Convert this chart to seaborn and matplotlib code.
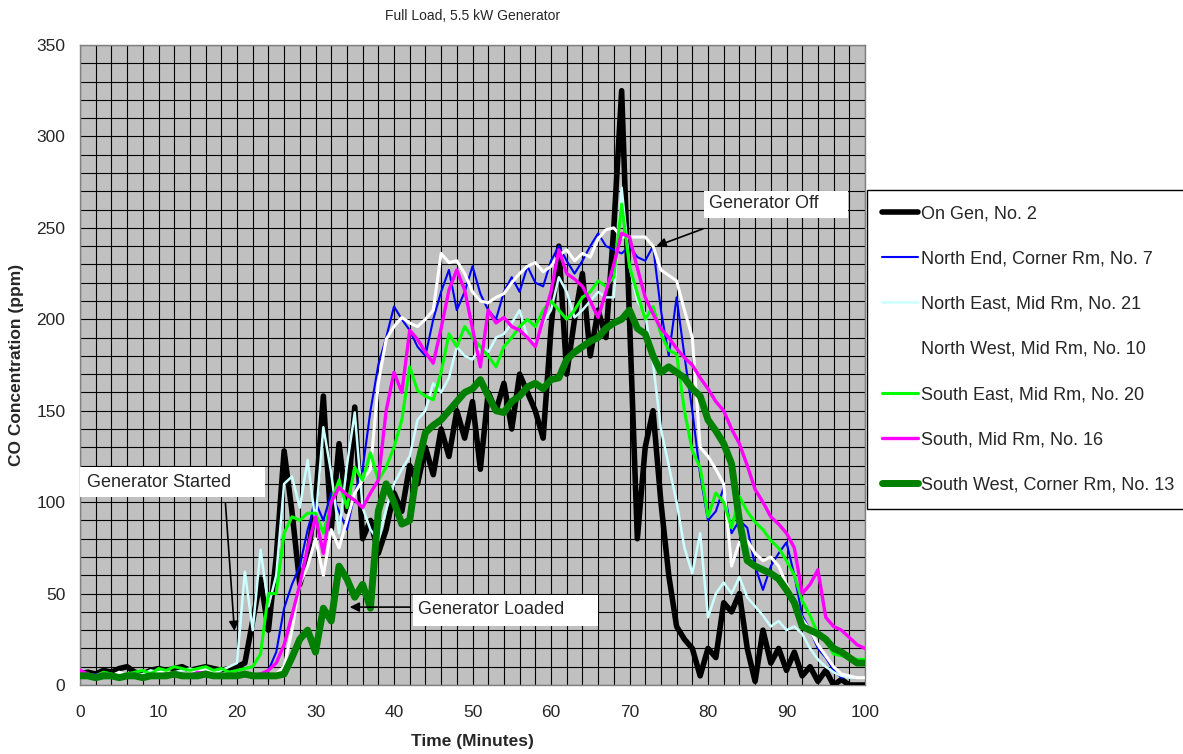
import numpy as np
import pandas as pd
import matplotlib
matplotlib.use("Agg")
import matplotlib.pyplot as plt
from matplotlib.patches import Rectangle
from matplotlib.lines import Line2D
import seaborn as sns

# ---------------- data (1-minute readings, ppm) ----------------
minutes = list(range(0, 101))

on_gen_2 = [6, 7, 6, 8, 7, 9, 10, 7, 6, 8, 9, 8, 9, 10, 8, 9, 10, 9, 8, 9, 10,
            12, 35, 58, 30, 70, 128, 95, 55, 70, 100, 158, 85, 132, 95, 152, 80, 90, 72, 85,
            105, 95, 120, 110, 130, 115, 140, 125, 150, 135, 155, 118, 160, 150, 165, 140, 170, 160, 150, 135,
            195, 240, 170, 200, 225, 180, 205, 190, 250, 325, 200, 80, 130, 150, 100, 60, 32, 25, 20, 5,
            20, 15, 45, 40, 50, 20, 2, 30, 12, 20, 8, 18, 5, 10, 2, 8, 0, 3, 0, 0, 0]

north_end_7 = [5, 4, 6, 5, 5, 6, 4, 5, 6, 5, 5, 6, 5, 6, 7, 8, 6, 5, 6, 5, 6, 5,
               5, 6, 8, 18, 42, 55, 65, 85, 100, 90, 105, 95, 85, 105, 118, 150, 175, 190,
               207, 200, 194, 185, 180, 200, 215, 227, 205, 215, 229, 214, 205, 200, 215, 223, 215, 229, 220, 218,
               232, 240, 232, 225, 232, 240, 247, 240, 238, 236, 240, 234, 232, 240, 205, 180, 212, 180, 150, 115,
               90, 95, 108, 83, 90, 86, 65, 52, 65, 72, 78, 60, 38, 30, 20, 15, 8, 4, 5, 4, 4]

north_east_21 = [4, 5, 4, 5, 6, 5, 4, 5, 6, 8, 7, 6, 7, 8, 9, 8, 9, 7, 8, 10, 12,
                 62, 30, 74, 43, 60, 110, 114, 97, 123, 89, 141, 116, 83, 120, 149, 97, 85, 79, 96,
                 110, 118, 125, 145, 150, 165, 160, 168, 185, 180, 178, 185, 182, 190, 192, 198, 205, 190, 187, 198,
                 205, 223, 215, 201, 205, 210, 215, 212, 212, 272, 229, 210, 203, 176, 140, 120, 100, 75, 61, 83,
                 37, 50, 56, 50, 59, 48, 43, 38, 32, 35, 30, 32, 28, 20, 14, 10, 7, 5, 4, 4, 4]

north_west_10 = [6, 5, 5, 6, 5, 7, 5, 6, 5, 6, 7, 8, 6, 6, 7, 8, 9, 7, 6, 7, 6, 6,
                 5, 5, 5, 6, 10, 30, 55, 65, 80, 60, 85, 75, 90, 105, 112, 118, 165, 189,
                 196, 201, 198, 196, 200, 205, 236, 231, 232, 225, 215, 210, 209, 212, 214, 220, 225, 229, 231, 226,
                 229, 235, 238, 232, 236, 234, 244, 249, 250, 245, 245, 245, 245, 240, 227, 224, 221, 205, 190, 130,
                 125, 118, 110, 65, 78, 79, 72, 68, 70, 65, 55, 46, 36, 30, 22, 16, 10, 6, 5, 4, 4]

south_east_20 = [5, 6, 5, 7, 6, 5, 6, 7, 8, 6, 9, 8, 10, 9, 8, 9, 10, 8, 9, 7, 8, 9,
                 10, 17, 50, 50, 83, 92, 90, 94, 94, 83, 100, 112, 97, 119, 112, 127, 112, 119,
                 130, 145, 174, 161, 158, 156, 171, 192, 185, 196, 190, 185, 180, 174, 185, 190, 196, 200, 196, 205,
                 210, 205, 200, 205, 212, 215, 221, 218, 223, 263, 229, 214, 200, 207, 192, 183, 181, 150, 128, 119,
                 92, 105, 100, 86, 103, 95, 89, 85, 79, 75, 68, 60, 46, 38, 28, 24, 17, 16, 15, 14, 14]

south_mid_16 = [8, 6, 5, 6, 5, 4, 5, 6, 4, 5, 5, 6, 5, 6, 5, 7, 6, 5, 6, 5, 6, 5,
                5, 6, 8, 12, 22, 38, 55, 75, 92, 72, 100, 108, 104, 101, 97, 105, 112, 150,
                171, 160, 194, 189, 182, 176, 195, 216, 227, 216, 195, 174, 205, 198, 201, 196, 194, 190, 185, 200,
                215, 238, 225, 222, 218, 210, 201, 215, 230, 247, 245, 228, 212, 203, 195, 190, 184, 179, 175, 168,
                162, 155, 150, 140, 132, 120, 107, 100, 92, 88, 83, 75, 50, 55, 63, 37, 32, 30, 26, 22, 20]

south_west_13 = [5, 5, 4, 5, 5, 4, 5, 5, 4, 5, 5, 5, 6, 5, 5, 5, 6, 5, 5, 5, 5, 6, 5, 5, 5, 5, 6,
                 15, 25, 30, 18, 42, 35, 65, 58, 48, 55, 42, 95, 110,
                 100, 88, 90, 120, 138, 142, 145, 150, 155, 160, 162, 167, 158, 150, 149, 155, 158, 163, 165, 162,
                 167, 168, 178, 182, 185, 188, 190, 195, 198, 200, 205, 195, 192, 180, 171, 174, 171, 168, 162, 158,
                 145, 139, 132, 121, 90, 68, 65, 63, 61, 58, 52, 45, 32, 30, 28, 25, 20, 18, 15, 12, 12]

series_names = ["On Gen, No. 2", "North End, Corner Rm, No. 7", "North East, Mid Rm, No. 21",
                "North West, Mid Rm, No. 10", "South East, Mid Rm, No. 20", "South, Mid Rm, No. 16",
                "South West, Corner Rm, No. 13"]
series_values = [on_gen_2, north_end_7, north_east_21, north_west_10, south_east_20, south_mid_16, south_west_13]
series_colors = ["#000000", "#0000FF", "#CCFFFF", "#FFFFFF", "#00FF00", "#FF00FF", "#008000"]
series_widths = [4.0, 1.5, 1.8, 2.2, 2.2, 2.4, 5.0]

title_text = "Full Load, 5.5 kW Generator"
x_label = "Time (Minutes)"
y_label = "CO Concentration (ppm)"

# ---------------- plot ----------------
sns.set_style("white")
plt.rcParams["font.family"] = ["Liberation Sans", "DejaVu Sans"]

fig = plt.figure(figsize=(11.83, 7.54), dpi=100)
ax = fig.add_axes([80 / 1183, 69 / 754, 785 / 1183, 640 / 754])
ax.set_facecolor("#C0C0C0")

for name, vals, col, lw in zip(series_names, series_values, series_colors, series_widths):
    df = pd.DataFrame({"t": minutes, "ppm": vals})
    sns.lineplot(data=df, x="t", y="ppm", ax=ax, color=col, linewidth=lw,
                 legend=False, zorder=3)

ax.set_xlim(0, 100)
ax.set_ylim(0, 350)
ax.set_xticks(np.arange(0, 101, 10))
ax.set_xticks(np.arange(0, 101, 2), minor=True)
ax.set_yticks(np.arange(0, 351, 50))
ax.set_yticks(np.arange(0, 351, 10), minor=True)
ax.grid(True, which="both", color="black", linewidth=0.8, zorder=1)
ax.set_axisbelow(True)
ax.tick_params(axis="both", which="major", length=4.5, width=1, color="#333333",
               labelsize=12.5, direction="out")
ax.tick_params(axis="x", which="major", pad=10)
ax.tick_params(axis="y", which="major", pad=6)
ax.tick_params(axis="both", which="minor", length=0)
for s in ax.spines.values():
    s.set_color("#808080")
    s.set_linewidth(1)

ax.set_xlabel(x_label, fontsize=12.5, fontweight="bold", labelpad=10)
ax.set_ylabel(y_label, fontsize=12.5, fontweight="bold", labelpad=9)
ax.set_title(title_text, fontsize=10, pad=18)

# annotation boxes
ax.add_patch(Rectangle((0, 102.8), 23.6, 16.4, facecolor="white", edgecolor="none", zorder=5))
ax.text(0.9, 111, "Generator Started", fontsize=13, va="center", ha="left", zorder=6)
ax.annotate("", xy=(19.7, 28), xytext=(18.5, 101),
            arrowprops=dict(arrowstyle="-|>", color="black", lw=1.2, mutation_scale=14), zorder=6)

ax.add_patch(Rectangle((42.4, 32.3), 23.6, 16.9, facecolor="white", edgecolor="none", zorder=5))
ax.text(43.1, 41.5, "Generator Loaded", fontsize=13, va="center", ha="left", zorder=6)
ax.annotate("", xy=(34.0, 42.6), xytext=(42.4, 42.6),
            arrowprops=dict(arrowstyle="-|>", color="black", lw=1.2, mutation_scale=14), zorder=6)

ax.add_patch(Rectangle((79.5, 255.4), 18.3, 14.7, facecolor="white", edgecolor="none", zorder=5))
ax.text(80.1, 263.2, "Generator Off", fontsize=13, va="center", ha="left", zorder=6)
ax.annotate("", xy=(73.1, 239.5), xytext=(79.7, 250),
            arrowprops=dict(arrowstyle="-|>", color="black", lw=1.2, mutation_scale=14), zorder=6)

handles = [Line2D([0], [0], color=c, linewidth=lw) for c, lw in zip(series_colors, series_widths)]
leg = fig.legend(handles, series_names, loc="upper left",
                 bbox_to_anchor=(867 / 1183, 1 - 190 / 754), fontsize=13,
                 frameon=True, fancybox=False, framealpha=1, edgecolor="black",
                 borderpad=0.85, labelspacing=1.56, handlelength=2.0, handletextpad=0.15,
                 borderaxespad=0)
leg.get_frame().set_linewidth(1)

fig.savefig("out.png", dpi=100)
